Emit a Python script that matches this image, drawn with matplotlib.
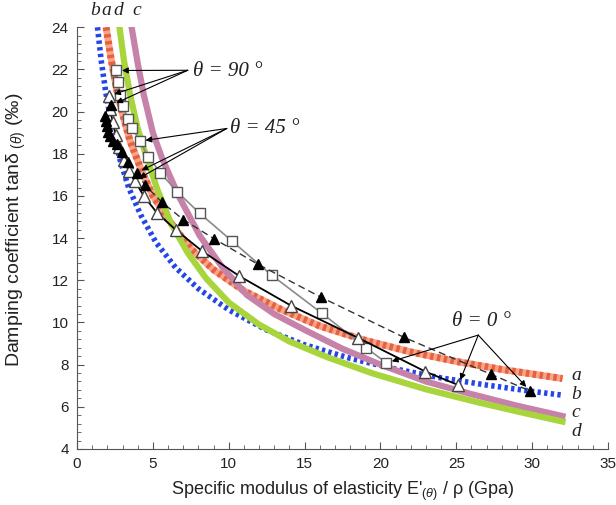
import matplotlib
matplotlib.use('Agg')
import matplotlib.pyplot as plt
from matplotlib.ticker import MultipleLocator

plt.rcParams['font.family'] = ['Liberation Sans', 'DejaVu Sans']
plt.rcParams['mathtext.fontset'] = 'custom'
plt.rcParams['mathtext.rm'] = 'Liberation Sans'
plt.rcParams['mathtext.it'] = 'Liberation Sans:italic'

# fitted curves a-d
a_x = [1.92, 2.2, 2.6, 3.0, 3.5, 4.2, 5, 6, 7.5, 9, 11, 13.5, 16, 19, 22, 25, 28, 32]
a_y = [24.0, 22.7, 21.1, 19.9, 18.6, 17.3, 16.0, 14.9, 13.5, 12.5, 11.5, 10.6, 9.83, 9.15, 8.6, 8.15, 7.77, 7.34]

b_x = [1.35, 1.6, 1.9, 2.3, 2.8, 3.4, 4.2, 5.2, 6.5, 8, 10, 12.5, 15, 18, 21, 24, 27, 30, 32]
b_y = [24.0, 22.4, 20.9, 19.3, 17.8, 16.4, 15.1, 13.8, 12.6, 11.6, 10.6, 9.64, 8.94, 8.3, 7.79, 7.37, 7.03, 6.73, 6.55]

c_x = [3.6, 4.0, 4.4, 5.0, 5.6, 6.7, 8.1, 9.6, 11.2, 13, 15, 17.5, 20, 23, 26, 29, 32]
c_y = [24.0, 22.3, 20.8, 19.0, 17.8, 16.0, 14.1, 12.6, 11.3, 10.4, 9.65, 8.75, 8.0, 7.2, 6.6, 6.05, 5.56]

d_x = [2.8, 3.1, 3.5, 4.0, 4.6, 5.3, 6.2, 7.3, 8.5, 10, 12, 14, 16.5, 19.5, 23, 26.5, 29.5, 32]
d_y = [24.0, 22.4, 20.8, 19.2, 17.8, 16.3, 14.7, 13.3, 12.1, 10.95, 9.9, 9.1, 8.35, 7.58, 6.83, 6.2, 5.7, 5.3]

# measured series (theta from 90 down to 0)
sq_x = [2.6, 2.7, 2.85, 3.05, 3.35, 3.65, 4.15, 4.7, 5.5, 6.6, 8.1, 10.2, 12.85, 16.15, 19.05, 20.4]
sq_y = [21.95, 21.4, 20.8, 20.25, 19.65, 19.2, 18.6, 17.85, 17.1, 16.2, 15.17, 13.87, 12.23, 10.43, 8.8, 8.08]

ot_x = [2.1, 2.2, 2.35, 2.55, 2.8, 3.1, 3.4, 3.8, 4.4, 5.27, 6.5, 8.22, 10.7, 14.1, 18.55, 22.96, 25.13]
ot_y = [20.75, 20.1, 19.5, 18.9, 18.3, 17.7, 17.2, 16.72, 16.0, 15.2, 14.4, 13.4, 12.2, 10.8, 9.26, 7.67, 7.03]

ft_x = [2.25, 1.85, 1.9, 1.97, 2.05, 2.2, 2.4, 2.62, 2.95, 3.38, 3.93, 4.5, 5.6, 7.0, 9.03, 11.9, 16.07, 21.53, 27.26, 29.86]
ft_y = [20.3, 19.8, 19.55, 19.3, 19.05, 18.85, 18.6, 18.45, 18.1, 17.6, 17.1, 16.5, 15.7, 14.88, 13.97, 12.77, 11.2, 9.3, 7.55, 6.75]

fig = plt.figure(figsize=(6.16, 5.05), dpi=100)
ax = fig.add_axes([0.125, 0.111, 0.862, 0.835])

# curves
ax.plot(a_x, a_y, color='#f6a58c', lw=5, solid_capstyle='butt', zorder=2)
ax.plot(a_x, a_y, color='#e8603c', lw=5, linestyle=(0, (0.5, 0.5)), zorder=2)
ax.plot(b_x, b_y, color='#2446e8', lw=4, linestyle=(0, (0.6, 0.6)), zorder=2)
ax.plot(c_x, c_y, color='#c682a8', lw=4.5, zorder=2)
ax.plot(d_x, d_y, color='#a8d43c', lw=4.5, zorder=2)

# data series
ax.plot(sq_x, sq_y, color='#8a8a8a', lw=1.2, marker='s', ms=7.5,
        mfc='white', mec='#555555', mew=1.0, zorder=4)
ax.plot(ot_x, ot_y, color='black', lw=1.3, marker='^', ms=8,
        mfc='white', mec='#444444', mew=1.0, zorder=5)
ax.plot(ft_x, ft_y, color='#333333', lw=1.0, linestyle=(0, (5, 3)), marker='^', ms=7,
        mfc='black', mec='black', zorder=6)

ax.set_xlim(0, 35)
ax.set_ylim(4, 24)
ax.xaxis.set_major_locator(MultipleLocator(5))
ax.xaxis.set_minor_locator(MultipleLocator(1))
ax.yaxis.set_major_locator(MultipleLocator(2))
ax.yaxis.set_minor_locator(MultipleLocator(0.4))
for s in ['top', 'right']:
    ax.spines[s].set_visible(False)
for s in ['left', 'bottom']:
    ax.spines[s].set_color('#555555')
ax.tick_params(which='major', direction='in', length=5, color='#555555', labelsize=11,
               labelcolor='#222222', pad=6)
ax.tick_params(which='minor', direction='in', length=3, color='#555555')

ax.set_xlabel("Specific modulus of elasticity E'$_{(\\theta)}$ / \u03c1 (Gpa)", fontsize=13, color='#222222')
ax.set_ylabel("Damping coefficient tan\u03b4$_{\\ (\\theta)}$ (\u2030)", fontsize=14, color='#222222')
ax.xaxis.set_label_coords(0.5, -0.072)
ax.yaxis.set_label_coords(-0.092, 0.52)

# curve labels
lab = dict(family='Liberation Serif', style='italic', fontsize=14, color='#222222')
ax.text(32.6, 7.5, 'a', va='center', ha='left', **lab)
ax.text(32.6, 6.56, 'b', va='center', ha='left', **lab)
ax.text(32.6, 5.75, 'c', va='center', ha='left', **lab)
ax.text(32.6, 4.85, 'd', va='center', ha='left', **lab)
ax.text(1.19, 24.8, 'b', va='center', ha='center', **lab)
ax.text(1.96, 24.8, 'a', va='center', ha='center', **lab)
ax.text(2.75, 24.8, 'd', va='center', ha='center', **lab)
ax.text(3.94, 24.8, 'c', va='center', ha='center', **lab)

# theta annotations
arrow = dict(arrowstyle='-|>', color='black', lw=0.8, mutation_scale=9, shrinkA=0, shrinkB=4)
thf = dict(family='Liberation Serif', style='italic', fontsize=15, color='#222222')

def mark(label, tx, ty, ox, oy, targets):
    ax.text(tx, ty, label, va='center', ha='left', **thf)
    for px, py in targets:
        ax.annotate('', xy=(px, py), xytext=(ox, oy), arrowprops=arrow, zorder=7)

mark('\u03b8 = 90 \u00b0', 7.65, 21.88, 7.3, 21.96,
     [(sq_x[0], sq_y[0]), (ot_x[0], ot_y[0]), (ft_x[0], ft_y[0])])
mark('\u03b8 = 45 \u00b0', 10.1, 19.2, 9.87, 19.2,
     [(sq_x[6], sq_y[6]), (ft_x[10], ft_y[10]), (ot_x[7], ot_y[7])])
mark('\u03b8 = 0 \u00b0', 24.7, 10.03, 26.45, 9.4,
     [(sq_x[-1], sq_y[-1]), (ot_x[-1], ot_y[-1]), (ft_x[-1], ft_y[-1])])

fig.savefig('out.png', dpi=100)
